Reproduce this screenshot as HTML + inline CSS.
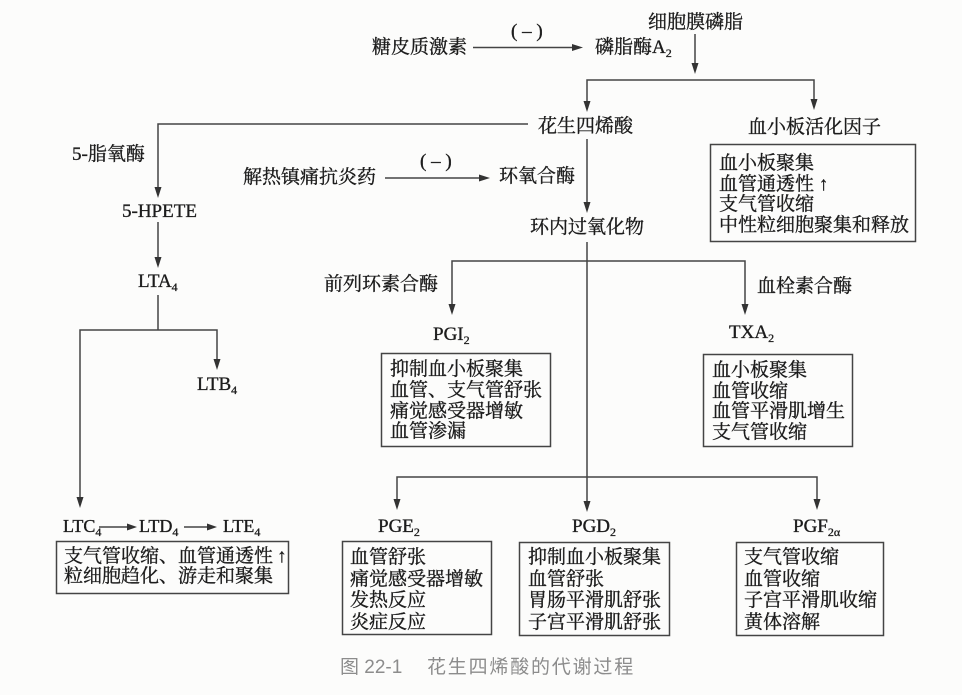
<!DOCTYPE html>
<html>
<head>
<meta charset="utf-8">
<style>
  html,body{margin:0;padding:0;}
  body{width:962px;height:695px;position:relative;overflow:hidden;background:#fcfcfb;
       font-family:"Liberation Serif","Noto Serif CJK SC",serif;color:#1c1c1c;}
  .t,.blk{-webkit-text-stroke:0.35px #1c1c1c;}
  .t{position:absolute;white-space:nowrap;font-size:19px;line-height:21px;height:21px;}
  .s{font-size:12px;position:relative;top:4px;line-height:0;}
  .blk{position:absolute;white-space:nowrap;font-size:19px;}
  .cap{position:absolute;white-space:nowrap;font-family:"Liberation Sans","Noto Sans CJK SC",sans-serif;
       color:#8c8c8c;font-size:19px;line-height:21px;}
  svg{position:absolute;left:0;top:0;}
</style>
</head>
<body>
<svg width="962" height="695" viewBox="0 0 962 695">
  <g stroke="#444" stroke-width="1.5" fill="none">
    <line x1="695" y1="34" x2="695" y2="66"/>
    <line x1="473" y1="47.5" x2="576" y2="47.5"/>
    <polyline points="587,104 587,80 814,80 814,103"/>
    <polyline points="528,124 158,124 158,190"/>
    <line x1="385" y1="178" x2="483" y2="178"/>
    <line x1="587" y1="139" x2="587" y2="206"/>
    <line x1="587" y1="242" x2="587" y2="505"/>
    <polyline points="452,308 452,261 745,261 745,308"/>
    <line x1="158" y1="222" x2="158" y2="261"/>
    <line x1="158" y1="295" x2="158" y2="330"/>
    <polyline points="80,501 80,330 217,330 217,363"/>
    <polyline points="397,503 397,477 817,477 817,503"/>
    <line x1="99" y1="527" x2="130" y2="527"/>
    <line x1="184" y1="527" x2="210" y2="527"/>
    <rect x="710.5" y="144.5" width="205" height="97"/>
    <rect x="381.5" y="353.5" width="169" height="93"/>
    <rect x="703.5" y="354.5" width="149" height="92"/>
    <rect x="56.5" y="541.5" width="232" height="52"/>
    <rect x="342.5" y="541.5" width="149" height="93"/>
    <rect x="519.5" y="542.5" width="150" height="93"/>
    <rect x="736.5" y="542.5" width="147" height="93"/>
  </g>
  <g fill="#333" stroke="none">
    <polygon points="691.5,63 695,74 698.5,63"/>
    <polygon points="583.5,101 587,112 590.5,101"/>
    <polygon points="810.5,99 814,110 817.5,99"/>
    <polygon points="154.5,187 158,198 161.5,187"/>
    <polygon points="583.5,202 587,213 590.5,202"/>
    <polygon points="583.5,501 587,512 590.5,501"/>
    <polygon points="448.5,304 452,315 455.5,304"/>
    <polygon points="741.5,304 745,315 748.5,304"/>
    <polygon points="154.5,257 158,268 161.5,257"/>
    <polygon points="76.5,497 80,508 83.5,497"/>
    <polygon points="213.5,359 217,370 220.5,359"/>
    <polygon points="393.5,499 397,510 400.5,499"/>
    <polygon points="813.5,499 817,510 820.5,499"/>
    <polygon points="572,44 583,47.5 572,51"/>
    <polygon points="479,174.5 490,178 479,181.5"/>
    <polygon points="127,523.5 137,527 127,530.5"/>
    <polygon points="207,523.5 217,527 207,530.5"/>
  </g>
</svg>

<div class="t" style="left:648px;top:12px;">细胞膜磷脂</div>
<div class="t" style="left:372px;top:37px;">糖皮质激素</div>
<div class="t" style="left:511px;top:21px;">( – )</div>
<div class="t" style="left:595px;top:37px;">磷脂酶A<span class="s">2</span></div>
<div class="t" style="left:538px;top:116px;">花生四烯酸</div>
<div class="t" style="left:748px;top:117px;">血小板活化因子</div>

<div class="blk" style="left:719px;top:154px;line-height:20.7px;">血小板聚集<br>血管通透性 ↑<br>支气管收缩<br>中性粒细胞聚集和释放</div>

<div class="t" style="left:72px;top:144px;">5-脂氧酶</div>
<div class="t" style="left:122px;top:201px;">5-HPETE</div>
<div class="t" style="left:138px;top:271px;">LTA<span class="s">4</span></div>
<div class="t" style="left:197px;top:374px;">LTB<span class="s">4</span></div>

<div class="t" style="left:243px;top:167px;">解热镇痛抗炎药</div>
<div class="t" style="left:420px;top:151px;">( – )</div>
<div class="t" style="left:499px;top:166px;">环氧合酶</div>
<div class="t" style="left:530px;top:217px;">环内过氧化物</div>

<div class="t" style="left:324px;top:274px;">前列环素合酶</div>
<div class="t" style="left:757px;top:276px;">血栓素合酶</div>
<div class="t" style="left:433px;top:324px;">PGI<span class="s">2</span></div>
<div class="t" style="left:729px;top:322px;">TXA<span class="s">2</span></div>

<div class="blk" style="left:390px;top:360px;line-height:20.8px;">抑制血小板聚集<br>血管、支气管舒张<br>痛觉感受器增敏<br>血管渗漏</div>
<div class="blk" style="left:712px;top:361px;line-height:20.6px;">血小板聚集<br>血管收缩<br>血管平滑肌增生<br>支气管收缩</div>

<div class="t" style="left:63px;top:516px;font-size:18px;">LTC<span class="s">4</span></div>
<div class="t" style="left:139px;top:516px;font-size:18px;">LTD<span class="s">4</span></div>
<div class="t" style="left:223px;top:516px;font-size:18px;">LTE<span class="s">4</span></div>
<div class="blk" style="left:64px;top:547px;line-height:19.5px;">支气管收缩、血管通透性<span style="margin-left:4px;">↑</span><br>粒细胞趋化、游走和聚集</div>

<div class="t" style="left:378px;top:516px;">PGE<span class="s">2</span></div>
<div class="t" style="left:572px;top:516px;">PGD<span class="s">2</span></div>
<div class="t" style="left:793px;top:516px;">PGF<span class="s">2α</span></div>

<div class="blk" style="left:350px;top:547px;line-height:21.5px;">血管舒张<br>痛觉感受器增敏<br>发热反应<br>炎症反应</div>
<div class="blk" style="left:528px;top:547px;line-height:21.5px;">抑制血小板聚集<br>血管舒张<br>胃肠平滑肌舒张<br>子宫平滑肌舒张</div>
<div class="blk" style="left:744px;top:547px;line-height:21.5px;">支气管收缩<br>血管收缩<br>子宫平滑肌收缩<br>黄体溶解</div>

<div class="cap" style="left:340px;top:657px;">图 22-1</div>
<div class="cap" style="left:427px;top:657px;letter-spacing:1.8px;">花生四烯酸的代谢过程</div>
</body>
</html>
